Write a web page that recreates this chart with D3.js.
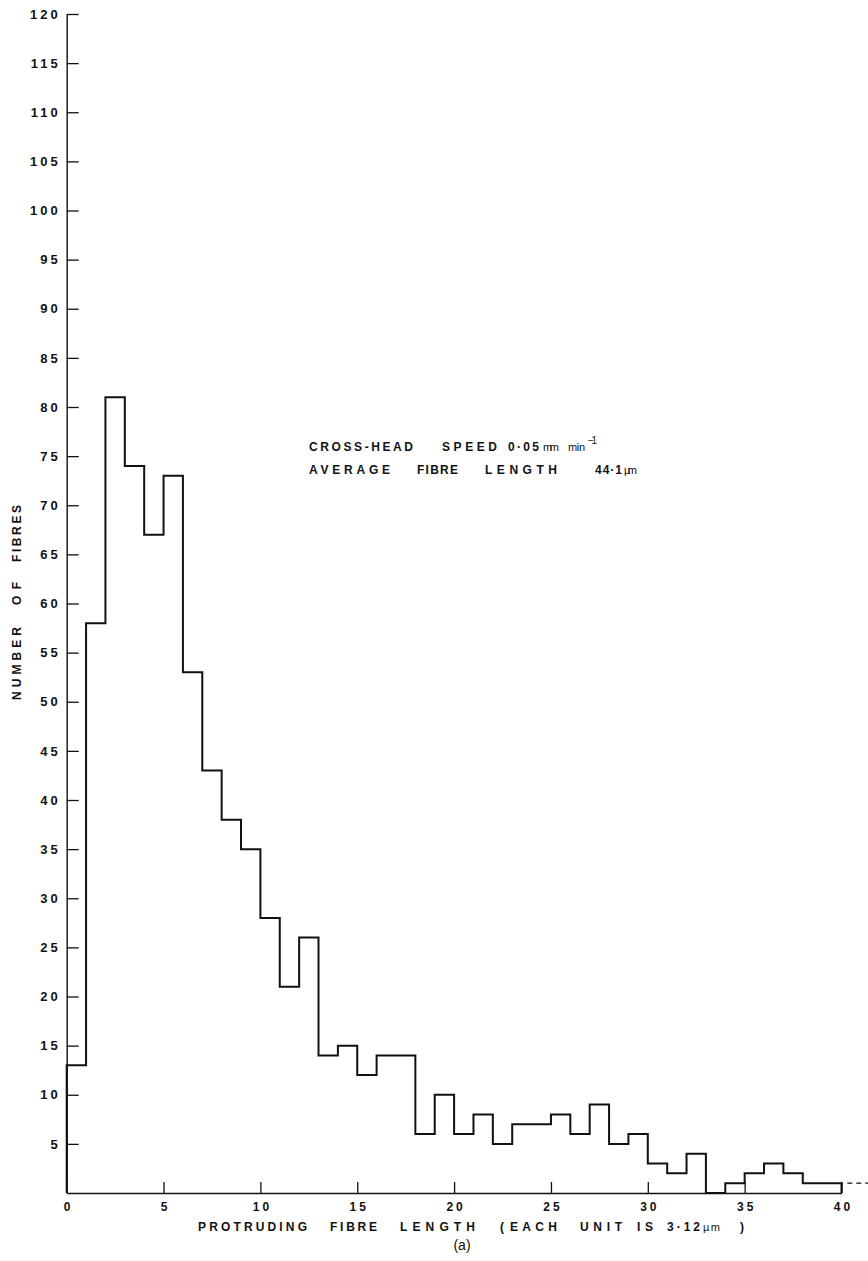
<!DOCTYPE html>
<html>
<head>
<meta charset="utf-8">
<script src="https://cdn.jsdelivr.net/npm/d3@7"></script>
<style>
  body { margin: 0; background: #fff; }
  svg text { font-family: "Liberation Sans", "DejaVu Sans", sans-serif; fill: #111; }
</style>
</head>
<body>
<div id="chart"></div>
<script>
// protruding fibre length bins (each unit is 3.12 µm) and counts
const binStarts = d3.range(0, 40);
const fibreCounts = [13, 58, 81, 74, 67, 73, 53, 43, 38, 35,
                     28, 21, 26, 14, 15, 12, 14, 14, 6, 10,
                     6, 8, 5, 7, 7, 8, 6, 9, 5, 6,
                     3, 2, 4, 0, 1, 2, 3, 2, 1, 1];
const tailValue = 1;
const yTicks = d3.range(5, 121, 5);
const xTicks = d3.range(0, 41, 5);

const W = 868, H = 1261;
const svg = d3.select("#chart").append("svg")
    .attr("width", W)
    .attr("height", H);

const x = d3.scaleLinear().domain([0, 40]).range([66.7, 841.5]);
const y = d3.scaleLinear().domain([0, 120]).range([1193, 14]);

// y axis: ticks point inwards, digits spaced out
const yAxis = svg.append("g")
    .attr("transform", `translate(${x(0)},0)`)
    .call(d3.axisLeft(y).tickValues(yTicks).tickSize(-12).tickSizeOuter(0).tickPadding(6));
yAxis.select(".domain").attr("stroke", "#111").attr("stroke-width", 1.4);
yAxis.selectAll(".tick line").attr("stroke", "#111").attr("stroke-width", 1.3);
yAxis.selectAll(".tick text")
    .style("font-size", "13px")
    .style("font-weight", "bold")
    .style("letter-spacing", "3px");

// x axis
const xAxis = svg.append("g")
    .attr("transform", `translate(0,${y(0)})`)
    .call(d3.axisBottom(x).tickValues(xTicks).tickSize(-11).tickSizeOuter(0).tickPadding(9));
xAxis.select(".domain").attr("stroke", "#111").attr("stroke-width", 1.4);
xAxis.selectAll(".tick text")
    .style("font-size", "12px")
    .style("font-weight", "bold")
    .style("letter-spacing", "3px")
    .attr("dx", "1.5px");
xAxis.selectAll(".tick line").attr("stroke", "#111").attr("stroke-width", 1.3);

// histogram outline
const pts = [[0, 0]]
    .concat(binStarts.map((b, i) => [b, fibreCounts[i]]))
    .concat([[40, fibreCounts[fibreCounts.length - 1]], [40, 0]]);
const step = d3.line()
    .x(d => x(d[0]))
    .y(d => y(d[1]))
    .curve(d3.curveStepAfter);
svg.append("path")
    .attr("d", step(pts))
    .attr("fill", "none")
    .attr("stroke", "#111")
    .attr("stroke-width", 2);

// dashed continuation beyond 40
svg.append("line")
    .attr("x1", x(40.3)).attr("x2", W)
    .attr("y1", y(tailValue)).attr("y2", y(tailValue))
    .attr("stroke", "#111")
    .attr("stroke-width", 1.3)
    .attr("stroke-dasharray", "5,4");

// word placement helper: [text, x0, x1, kind]
function words(g, list, baseline, size) {
    list.forEach(([t, x0, x1, kind]) => {
        const el = g.append("text")
            .attr("x", x0)
            .attr("y", kind === "sup" ? baseline - 7 : baseline)
            .style("font-size", kind === "lower" ? (size - 1) + "px" : kind === "sup" ? (size - 2) + "px" : size + "px")
            .style("font-weight", kind === "lower" || kind === "sup" ? "normal" : "bold")
            .text(t);
        if (t.length > 1) el.attr("textLength", x1 - x0).attr("lengthAdjust", "spacing");
    });
}

const note = svg.append("g");
words(note, [["CROSS-HEAD", 309, 413], ["SPEED", 442, 497], ["0·05", 508, 539],
             ["mm", 543, 559, "lower"], ["min", 568, 585, "lower"], ["−1", 588, 597, "sup"]], 451, 12);
words(note, [["AVERAGE", 309, 390], ["FIBRE", 417, 458], ["LENGTH", 485, 557],
             ["44·1", 595, 622], ["µm", 624, 637, "lower"]], 474, 12);

const title = svg.append("g");
words(title, [["PROTRUDING", 198, 307], ["FIBRE", 330, 377], ["LENGTH", 400, 475], ["(", 500, 505],
              ["EACH", 510, 557], ["UNIT", 580, 622], ["IS", 637, 653], ["3·12", 667, 700],
              ["µm", 703, 720, "lower"], [")", 740, 745]], 1231, 12);

svg.append("text")
    .attr("x", 462)
    .attr("y", 1250)
    .attr("text-anchor", "middle")
    .style("font-size", "14px")
    .text("(a)");

// rotated y label
const ylab = svg.append("g").attr("transform", "translate(21,0) rotate(-90)");
words(ylab, [["NUMBER", -700, -627], ["OF", -605, -582], ["FIBRES", -562, -505]], 0, 12);
</script>
</body>
</html>
